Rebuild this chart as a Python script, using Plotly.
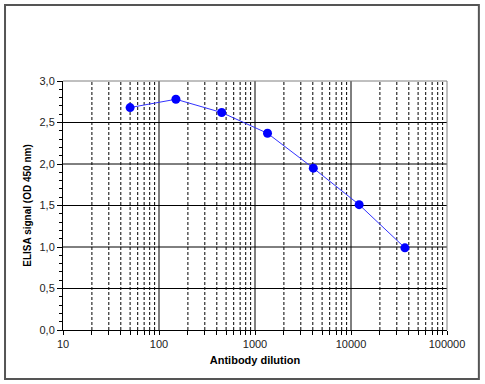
import plotly.graph_objects as go

dilution = [50, 150, 450, 1350, 4050, 12150, 36450]
signal = [2.68, 2.78, 2.62, 2.37, 1.95, 1.51, 0.99]

x_tickvals = [10, 100, 1000, 10000, 100000]
x_ticktext = ["10", "100", "1000", "10000", "100000"]
y_tickvals = [0, 0.5, 1.0, 1.5, 2.0, 2.5, 3.0]
h_grid = [0.5, 1.0, 1.5, 2.0, 2.5]
minor_x = [m * 10 ** e for e in range(1, 5) for m in range(2, 10)]

font = "Liberation Sans, Arial, sans-serif"

fig = go.Figure()
fig.add_trace(go.Scatter(
    x=dilution, y=signal, mode="lines+markers",
    line=dict(color="#3333ff", width=1),
    marker=dict(color="#0000ff", size=9, symbol="circle"),
    showlegend=False,
))

shapes = []
for v in h_grid:
    shapes.append(dict(type="line", xref="paper", yref="y", x0=0, x1=1, y0=v, y1=v,
                       line=dict(color="black", width=1), layer="below"))
for v in minor_x:
    shapes.append(dict(type="line", xref="x", yref="paper", x0=v, x1=v, y0=0, y1=1,
                       line=dict(color="black", width=1, dash="3px,2px"), layer="below"))
for v in x_tickvals[1:-1]:
    shapes.append(dict(type="line", xref="x", yref="paper", x0=v, x1=v, y0=0, y1=1,
                       line=dict(color="black", width=1), layer="below"))
# plot area border (top and right, gray)
shapes.append(dict(type="line", xref="paper", yref="paper", x0=0, x1=1, y0=1, y1=1,
                   line=dict(color="#808080", width=1), layer="below"))
shapes.append(dict(type="line", xref="paper", yref="paper", x0=1, x1=1, y0=0, y1=1,
                   line=dict(color="#808080", width=1), layer="below"))
# outer frame
shapes.append(dict(type="rect", xref="paper", yref="paper",
                   x0=-0.151, x1=1.083, y0=-0.197, y1=1.305,
                   line=dict(color="#555555", width=2)))
fig.update_layout(shapes=shapes)

fig.update_layout(
    width=485, height=384,
    margin=dict(l=63, r=38, t=81, b=54),
    paper_bgcolor="white", plot_bgcolor="white",
    separators=",.",
    font=dict(family=font, size=11, color="#222222"),
    xaxis=dict(
        type="log", range=[1, 5],
        tickvals=x_tickvals, ticktext=x_ticktext,
        showgrid=False, zeroline=False,
        showline=True, linecolor="black", linewidth=1,
        ticks="outside", ticklen=4, tickcolor="black",
        minor=dict(tickvals=minor_x, ticks="outside", ticklen=4, tickcolor="black", showgrid=False),
        title=dict(text="<b>Antibody dilution</b>", font=dict(size=11, color="black"), standoff=7),
    ),
    yaxis=dict(
        range=[0, 3.0],
        tickvals=y_tickvals, tickformat=".1f",
        showgrid=False, zeroline=False,
        showline=True, linecolor="black", linewidth=1,
        ticks="outside", ticklen=5, tickcolor="black",
        minor=dict(dtick=0.1, ticks="outside", ticklen=3, tickcolor="black", showgrid=False),
        title=dict(text="<b>ELISA signal (OD 450 nm)</b>", font=dict(size=10, color="black"), standoff=6),
    ),
)

fig.write_html("out.html", config={"displayModeBar": False},
               post_script="document.body.style.margin='0';document.body.style.overflow='hidden';")
